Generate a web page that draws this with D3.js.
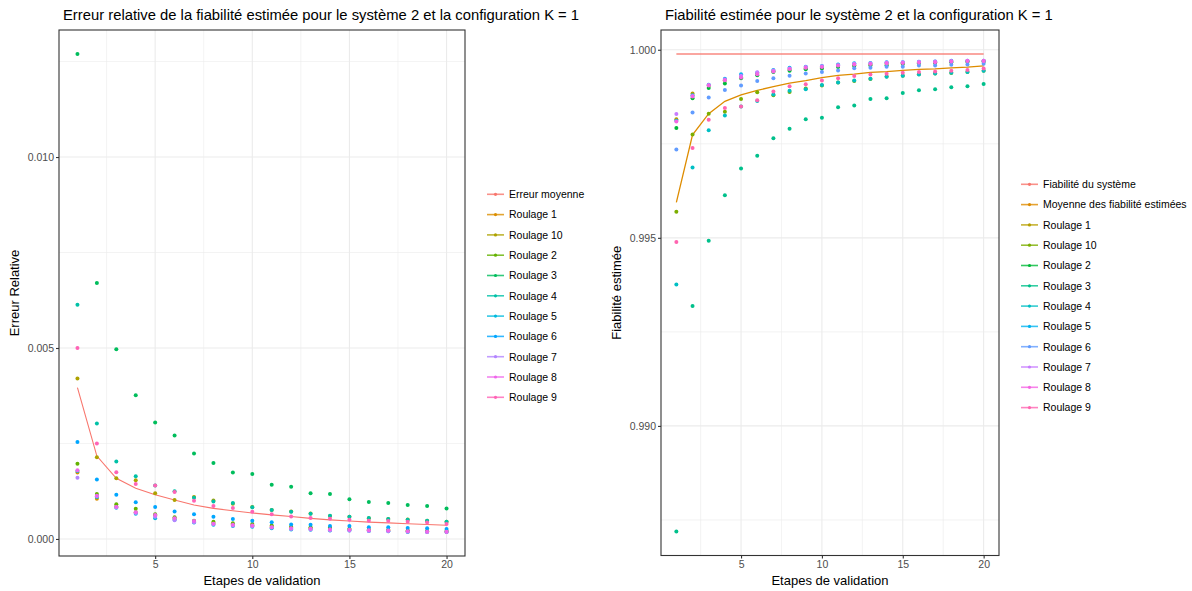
<!DOCTYPE html>
<html><head><meta charset="utf-8">
<script src="https://cdn.jsdelivr.net/npm/d3@7"></script>
<style>
body{margin:0;background:#fff}
svg{display:block}
text{font-family:"Liberation Sans",Arial,Helvetica,sans-serif}
</style>
</head><body>
<svg id="c" width="1192" height="591"></svg>
<script>
// ---------- DATA ----------
const steps = [1,2,3,4,5,6,7,8,9,10,11,12,13,14,15,16,17,18,19,20];
const xTicks = [5,10,15,20];
const xMinor = [2.5,7.5,12.5,17.5];

// Left panel: relative error
const errTitle = "Erreur relative de la fiabilité estimée pour le système 2 et la configuration K = 1";
const errYTicks = [0.000,0.005,0.010];
const errYMinor = [0.0025,0.0075,0.0125];
const errLabels = ["Erreur moyenne","Roulage 1","Roulage 10","Roulage 2","Roulage 3","Roulage 4","Roulage 5","Roulage 6","Roulage 7","Roulage 8","Roulage 9"];
const errColors = ["#F8766D","#DB8E00","#AEA200","#64B200","#00BD5C","#00C1A7","#00BADE","#00A6FF","#B385FF","#EF67EB","#FF63B6"];
const errMean = [0.00396,0.00217,0.00159,0.00133,0.00116,0.00102,0.00089,0.0008,0.00074,0.00068,0.00063,0.00059,0.00054,0.0005,0.00047,0.00044,0.00042,0.0004,0.00038,0.00036];
const errR1  = [0.00174,0.00105,0.00085,0.0007,0.00062,0.00053,0.00046,0.00042,0.00038,0.00036,0.00032,0.0003,0.00028,0.00026,0.00025,0.00023,0.00022,0.0002,0.0002,0.00019];
const errR10 = [0.0042,0.00214,0.00159,0.00154,0.0012,0.00102,0.0011,0.00101,0.00092,0.00084,0.00076,0.00072,0.00067,0.0006,0.00058,0.00054,0.00052,0.00051,0.00048,0.00045];
const errR2  = [0.00197,0.00118,0.00091,0.00079,0.00065,0.00057,0.00048,0.00045,0.00041,0.00039,0.00035,0.00032,0.00031,0.0003,0.00027,0.00025,0.00024,0.00022,0.00021,0.00021];
const errR3  = [0.0127,0.0067,0.00497,0.00376,0.00305,0.00271,0.00224,0.00199,0.00174,0.0017,0.00142,0.00137,0.0012,0.00118,0.00104,0.00097,0.00094,0.00089,0.00086,0.0008];
const errR4  = [0.00613,0.00302,0.00203,0.00164,0.0014,0.00125,0.00108,0.00098,0.00094,0.00083,0.00076,0.00071,0.00066,0.00061,0.00058,0.00055,0.00052,0.0005,0.00048,0.00045];
const errR5  = [0.00178,0.0011,0.00082,0.00066,0.00054,0.0005,0.00043,0.00037,0.00034,0.00032,0.00028,0.00025,0.00024,0.00022,0.00022,0.00021,0.0002,0.00018,0.00018,0.00018];
const errR6  = [0.00254,0.00156,0.00116,0.00096,0.00084,0.00072,0.00065,0.00058,0.00052,0.00048,0.00044,0.00038,0.00037,0.00034,0.00034,0.00031,0.00031,0.00029,0.00028,0.00026];
const errR7  = [0.0016,0.00112,0.00083,0.00068,0.00058,0.00049,0.00044,0.00039,0.00035,0.00033,0.0003,0.00026,0.00025,0.00023,0.00022,0.00021,0.0002,0.00019,0.00018,0.00018];
const errR8  = [0.0018,0.00113,0.00084,0.0007,0.00063,0.00054,0.00047,0.0004,0.00037,0.00035,0.00031,0.00028,0.00027,0.00025,0.00024,0.00023,0.00022,0.0002,0.00019,0.00019];
const errR9  = [0.005,0.0025,0.00175,0.00144,0.0014,0.00123,0.001,0.00086,0.00081,0.00071,0.00065,0.00059,0.00055,0.00053,0.0005,0.00048,0.00047,0.00045,0.00043,0.00039];

// Right panel: estimated reliability
const relTitle = "Fiabilité estimée pour le système 2 et la configuration K = 1";
const relYTicks = [0.990,0.995,1.000];
const relYMinor = [0.9875,0.9925,0.9975];
const relLabels = ["Fiabilité du système","Moyenne des fiabilité estimées","Roulage 1","Roulage 10","Roulage 2","Roulage 3","Roulage 4","Roulage 5","Roulage 6","Roulage 7","Roulage 8","Roulage 9"];
const relColors = ["#F8766D","#DE8C00","#B79F00","#7CAE00","#00BA38","#00C08B","#00BFC4","#00B4F0","#619CFF","#C77CFF","#F564E3","#FF64B0"];
const relSystem = [0.99989,0.99989,0.99989,0.99989,0.99989,0.99989,0.99989,0.99989,0.99989,0.99989,0.99989,0.99989,0.99989,0.99989,0.99989,0.99989,0.99989,0.99989,0.99989,0.99989];
const relMean = [0.99594,0.99774,0.9983,0.99863,0.9988,0.99892,0.99902,0.99911,0.99918,0.99926,0.99932,0.99935,0.9994,0.99942,0.99945,0.99948,0.99949,0.99952,0.99954,0.99957];
const relR1  = [0.99815,0.99884,0.99904,0.99919,0.99927,0.99936,0.99943,0.99947,0.99951,0.99953,0.99957,0.99959,0.99961,0.99963,0.99964,0.99966,0.99967,0.99969,0.99969,0.9997];
const relR10 = [0.99569,0.99775,0.9983,0.99835,0.99869,0.99887,0.99879,0.99888,0.99897,0.99905,0.99913,0.99917,0.99922,0.99929,0.99931,0.99935,0.99937,0.99938,0.99941,0.99944];
const relR2  = [0.99792,0.99871,0.99898,0.9991,0.99924,0.99932,0.99941,0.99944,0.99948,0.9995,0.99954,0.99957,0.99958,0.99959,0.99962,0.99964,0.99965,0.99967,0.99968,0.99968];
const relR3  = [0.98719,0.99319,0.99492,0.99613,0.99684,0.99718,0.99765,0.9979,0.99815,0.99819,0.99847,0.99852,0.99869,0.99871,0.99885,0.99892,0.99895,0.999,0.99903,0.99909];
const relR4  = [0.99376,0.99687,0.99786,0.99825,0.99849,0.99864,0.99881,0.99891,0.99895,0.99906,0.99913,0.99918,0.99923,0.99928,0.99931,0.99934,0.99937,0.99939,0.99941,0.99944];
const relR5  = [0.99811,0.99879,0.99907,0.99923,0.99935,0.99939,0.99946,0.99952,0.99955,0.99957,0.99961,0.99964,0.99965,0.99967,0.99967,0.99968,0.99969,0.99971,0.99971,0.99971];
const relR6  = [0.99735,0.99833,0.99873,0.99893,0.99905,0.99917,0.99924,0.99931,0.99937,0.99941,0.99945,0.99951,0.99952,0.99955,0.99955,0.99958,0.99958,0.9996,0.99961,0.99963];
const relR7  = [0.99829,0.99877,0.99906,0.99921,0.99931,0.9994,0.99945,0.9995,0.99954,0.99956,0.99959,0.99963,0.99964,0.99966,0.99967,0.99968,0.99969,0.9997,0.99971,0.99971];
const relR8  = [0.99809,0.99876,0.99905,0.99919,0.99926,0.99935,0.99942,0.99949,0.99952,0.99954,0.99958,0.99961,0.99962,0.99964,0.99965,0.99966,0.99967,0.99969,0.9997,0.9997];
const relR9  = [0.99489,0.99739,0.99814,0.99845,0.99849,0.99866,0.99889,0.99903,0.99908,0.99918,0.99924,0.9993,0.99934,0.99936,0.99939,0.99941,0.99942,0.99944,0.99946,0.9995];

// ---------- DRAW ----------
const svg = d3.select("#c");
const FONT_TICK = 10.5, FONT_AXIS = 13, FONT_TITLE = 14.8, FONT_LEG = 10.5;

function drawPanel(cfg){
  const {x0,x1,y0,y1} = cfg.box;
  const allVals = cfg.lines.flatMap(l=>l.values).concat(cfg.points.flatMap(p=>p.values));
  const [mn,mx] = d3.extent(allVals);
  const pad = (mx-mn)*0.05;
  const x = d3.scaleLinear().domain([1-0.95, 20+0.95]).range([x0,x1]);
  const y = d3.scaleLinear().domain([mn-pad, mx+pad]).range([y1,y0]);
  const g = svg.append("g");

  // grid minor
  g.selectAll(null).data(cfg.yMinor).join("line")
    .attr("x1",x0).attr("x2",x1).attr("y1",d=>y(d)).attr("y2",d=>y(d))
    .attr("stroke","#EBEBEB").attr("stroke-width",0.6);
  g.selectAll(null).data(xMinor).join("line")
    .attr("y1",y0).attr("y2",y1).attr("x1",d=>x(d)).attr("x2",d=>x(d))
    .attr("stroke","#EBEBEB").attr("stroke-width",0.6);
  // grid major
  g.selectAll(null).data(cfg.yTicks).join("line")
    .attr("x1",x0).attr("x2",x1).attr("y1",d=>y(d)).attr("y2",d=>y(d))
    .attr("stroke","#EBEBEB").attr("stroke-width",1.1);
  g.selectAll(null).data(xTicks).join("line")
    .attr("y1",y0).attr("y2",y1).attr("x1",d=>x(d)).attr("x2",d=>x(d))
    .attr("stroke","#EBEBEB").attr("stroke-width",1.1);

  const line = d3.line().x((d,i)=>x(steps[i])).y(d=>y(d));
  cfg.lines.forEach(l=>{
    g.append("path").attr("d",line(l.values)).attr("fill","none")
      .attr("stroke",l.color).attr("stroke-width",l.width).attr("stroke-opacity",l.opacity);
  });
  cfg.points.forEach(p=>{
    g.selectAll(null).data(p.values).join("circle")
      .attr("cx",(d,i)=>x(steps[i])).attr("cy",d=>y(d)).attr("r",2)
      .attr("fill",p.color);
  });

  // border
  g.append("rect").attr("x",x0).attr("y",y0).attr("width",x1-x0).attr("height",y1-y0)
    .attr("fill","none").attr("stroke","#333333").attr("stroke-width",1.1);

  // axes
  const ay = g.append("g").attr("transform",`translate(${x0},0)`)
    .call(d3.axisLeft(y).tickValues(cfg.yTicks).tickFormat(d3.format(".3f")).tickSize(3).tickPadding(2));
  const ax = g.append("g").attr("transform",`translate(0,${y1})`)
    .call(d3.axisBottom(x).tickValues(xTicks).tickFormat(d3.format("d")).tickSize(3).tickPadding(2));
  [ax,ay].forEach(a=>{
    a.select(".domain").remove();
    a.selectAll(".tick line").attr("stroke","#333333").attr("stroke-width",1.1);
    a.selectAll(".tick text").attr("fill","#4D4D4D").style("font-size",FONT_TICK+"px")
      .style("font-family",'"Liberation Sans",Arial,sans-serif');
  });

  // titles
  svg.append("text").attr("x",x0+4).attr("y",20).text(cfg.title)
    .style("font-size",FONT_TITLE+"px").attr("fill","#000");
  svg.append("text").attr("x",(x0+x1)/2).attr("y",585).attr("text-anchor","middle")
    .text("Etapes de validation").style("font-size",FONT_AXIS+"px");
  svg.append("text").attr("transform",`translate(${cfg.yTitleX},${(y0+y1)/2}) rotate(-90)`)
    .attr("text-anchor","middle").text(cfg.yTitle).style("font-size",FONT_AXIS+"px");

  // legend
  const lg = svg.append("g");
  cfg.legend.labels.forEach((lab,i)=>{
    const yy = cfg.legend.y + i*20.3;
    const c = cfg.legend.colors[i];
    lg.append("line").attr("x1",cfg.legend.x).attr("x2",cfg.legend.x+17).attr("y1",yy).attr("y2",yy)
      .attr("stroke",c).attr("stroke-width",1.6).attr("stroke-opacity",0.8);
    lg.append("circle").attr("cx",cfg.legend.x+8.5).attr("cy",yy).attr("r",1.6).attr("fill",c);
    lg.append("text").attr("x",cfg.legend.x+22).attr("y",yy+3.8).text(lab)
      .style("font-size",FONT_LEG+"px").attr("fill","#000");
  });
}

const errSeries = [errR1,errR10,errR2,errR3,errR4,errR5,errR6,errR7,errR8,errR9];
drawPanel({
  box:{x0:59,x1:465,y0:30,y1:556},
  title:errTitle, yTitle:"Erreur Relative", yTitleX:19,
  yTicks:errYTicks, yMinor:errYMinor,
  lines:[{values:errMean,color:errColors[0],width:1.1,opacity:1}],
  points:errSeries.map((v,i)=>({values:v,color:errColors[i+1]})),
  legend:{x:487,y:194.3,labels:errLabels,colors:errColors}
});

const relSeries = [relR1,relR10,relR2,relR3,relR4,relR5,relR6,relR7,relR8,relR9];
drawPanel({
  box:{x0:661,x1:999,y0:30,y1:555.5},
  title:relTitle, yTitle:"Fiabilité estimée", yTitleX:621,
  yTicks:relYTicks, yMinor:relYMinor,
  lines:[{values:relSystem,color:relColors[0],width:2,opacity:0.65},
         {values:relMean,color:relColors[1],width:1.3,opacity:1}],
  points:relSeries.map((v,i)=>({values:v,color:relColors[i+2]})),
  legend:{x:1021,y:184.3,labels:relLabels,colors:relColors}
});
</script>
</body></html>
